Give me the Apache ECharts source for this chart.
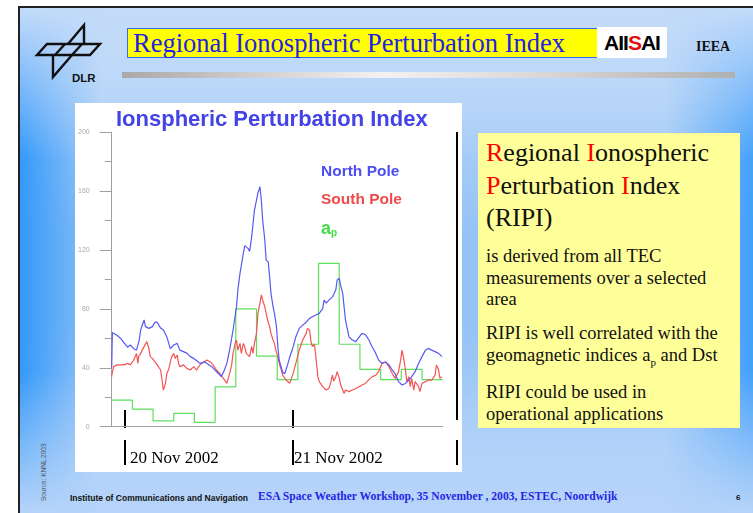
<!DOCTYPE html>
<html>

<head>
	<meta charset="utf-8" />
	<title>Regional Ionospheric Perturbation Index</title>
	<script src="https://cdn.jsdelivr.net/npm/echarts@6/dist/echarts.min.js"></script>
	<style>
		* {
			margin: 0;
			padding: 0;
		}

		html,
		body {
			width: 753px;
			height: 513px;
			overflow: hidden;
			background: #fff;
		}

		.slide {
			position: absolute;
			left: 18px;
			top: 6px;
			width: 735px;
			height: 507px;
			box-sizing: border-box;
			border-left: 2px solid #222;
			border-top: 2px solid #222;
			background:
				linear-gradient(to bottom, #c3dbf9 0%, rgba(195, 219, 249, 0) 30%, rgba(184, 213, 249, 0) 72%, #b6d4f9 100%),
				linear-gradient(to right, rgba(45, 150, 250, 0.95) 0%, rgba(45, 150, 250, 0) 11%, rgba(45, 150, 250, 0) 88%, rgba(45, 150, 250, 0.8) 100%),
				linear-gradient(to bottom, #c3dbf9 0%, #94c3f6 45%, #94c3f6 62%, #b6d4f9 100%);
		}

		.abs {
			position: absolute;
			white-space: nowrap;
		}

		.serif {
			font-family: 'Liberation Serif', 'Times New Roman', serif;
		}

		.sans {
			font-family: 'Liberation Sans', Arial, sans-serif;
		}

		.titlebox {
			left: 127px;
			top: 28px;
			width: 466px;
			height: 28px;
			background: #ffff00;
			border: 1.5px solid #3a6cf0;
			color: #2222e6;
			font-size: 26.5px;
			line-height: 29px;
			padding-left: 5px;
		}

		.bar {
			left: 122px;
			top: 72px;
			width: 613px;
			height: 6px;
			background: linear-gradient(to right, #a9a9a9 0%, #f2f2f2 42%, #d6d6d6 70%, #b0b0b0 100%);
		}

		.aiisai {
			left: 597px;
			top: 27px;
			width: 70px;
			height: 31px;
			background: #fff;
			font-size: 21px;
			font-weight: bold;
			line-height: 31px;
			text-align: center;
			color: #000;
			letter-spacing: -1px;
		}

		.textbox {
			left: 478px;
			top: 133px;
			width: 262px;
			height: 295px;
			background: #ffff99;
			color: #111;
		}

		.textbox .r {
			color: #ff0000;
		}

		.big {
			left: 8px;
			font-size: 26px;
			line-height: 32.5px;
		}

		.small {
			left: 8px;
			font-size: 18.5px;
			line-height: 21.5px;
		}

		#chart {
			position: absolute;
			left: 75px;
			top: 103px;
			width: 387px;
			height: 369px;
			background: #fff;
		}
	</style>
</head>

<body>
	<div class="slide"></div>

	<!-- DLR logo -->
	<svg class="abs" style="left:0;top:0" width="120" height="95">
		<g fill="none" stroke="#111" stroke-width="2.4" stroke-linejoin="miter">
			<polygon points="37,55 47,44 100,44 90,55" />
			<line x1="55" y1="55" x2="65" y2="44" />
			<line x1="72" y1="55" x2="82" y2="44" />
			<polyline points="53,55 53,77 72,55" />
			<polyline points="68,44 84,25 84,44" />
		</g>
		<text x="72" y="82" font-family="Liberation Sans, Arial" font-weight="bold" font-size="11.5" fill="#111">DLR</text>
	</svg>

	<div class="abs serif titlebox">Regional Ionospheric Perturbation Index</div>
	<div class="abs sans aiisai">AII<span style="color:#e01010">S</span>AI</div>
	<div class="abs serif" style="left:696px;top:37px;font-size:14px;font-weight:bold;line-height:20px;color:#111">IEEA</div>
	<div class="abs bar"></div>

	<div id="chart"></div>

	<div class="abs textbox serif">
		<div class="abs big" style="top:4px"><span class="r">R</span>egional <span class="r">I</span>onospheric<br><span class="r">P</span>erturbation <span class="r">I</span>ndex<br>(RIPI)</div>
		<div class="abs small" style="top:113px">is derived from all TEC<br>measurements over a selected<br>area</div>
		<div class="abs small" style="top:190px">RIPI is well correlated with the<br>geomagnetic indices a<sub style="font-size:11px">p</sub> and Dst</div>
		<div class="abs small" style="top:249px">RIPI could be used in<br>operational applications</div>
	</div>

	<div class="abs sans" style="left:40px;top:501px;font-size:6.5px;line-height:8px;color:#555;transform:rotate(-90deg);transform-origin:left top">Source: KNNL 2003</div>
	<div class="abs sans" style="left:70px;top:492px;font-size:8.5px;line-height:12px;font-weight:bold;color:#111">Institute of Communications and Navigation</div>
	<div class="abs serif" style="left:258px;top:490px;font-size:11.6px;line-height:14px;font-weight:bold;color:#2525e6">ESA Space Weather Workshop, 35 November , 2003, ESTEC, Noordwijk</div>
	<div class="abs sans" style="left:736px;top:492px;font-size:8px;line-height:12px;font-weight:bold;color:#111">6</div>

	<script>
		// North Pole RIPI: [hours from start, value]
		var northPole = [
			[0, 40], [0.1, 64], [0.8, 62], [1.3, 60], [1.8, 57], [2.3, 54], [2.7, 55.5], [3.2, 53], [3.6, 52],
			[4.0, 59], [4.2, 65.7], [4.7, 72.5], [4.9, 68], [5.4, 66.8], [5.9, 68], [6.3, 71], [6.6, 71],
			[7.1, 67], [7.5, 65.7], [8.0, 61], [8.5, 53], [9.0, 55.5], [9.5, 56.6], [9.9, 52], [10.4, 51],
			[10.9, 50], [11.4, 47.6], [11.9, 46.4], [12.3, 45], [12.8, 43], [13.5, 44], [14.5, 40.8],
			[15.5, 36], [15.9, 34], [16.3, 38], [16.7, 43], [17.1, 52], [17.6, 65.7], [18.1, 81.5],
			[18.3, 93], [18.6, 104], [19.1, 118], [19.3, 123], [19.8, 121], [20.0, 119], [20.3, 129],
			[20.5, 138], [20.7, 147], [21.0, 154], [21.2, 158.5], [21.5, 163], [21.7, 154], [21.9, 140],
			[22.2, 127], [22.4, 113], [22.7, 112], [22.9, 102], [23.1, 90.6], [23.4, 81.5], [23.6, 77],
			[23.9, 68], [24.1, 54], [24.3, 45], [24.8, 37], [25.1, 36], [25.5, 42], [25.8, 47], [26.3, 54],
			[26.7, 61], [27.2, 66.8], [27.7, 69], [28.2, 71], [28.7, 73.6], [29.1, 74.7], [29.6, 75.9],
			[30.1, 77], [30.6, 80.4], [30.8, 86], [31.1, 84], [31.5, 86], [32.0, 88], [32.5, 93],
			[32.7, 99.7], [33.0, 100.8], [33.2, 96], [33.5, 90.6], [33.7, 81.5], [33.9, 72.5], [34.2, 65.7],
			[34.4, 61], [34.9, 58.9], [35.4, 57.8], [35.9, 61], [36.3, 63.4], [36.8, 62.5], [37.3, 58.9],
			[37.8, 54], [38.3, 49.8], [38.7, 45.3], [39.2, 43], [39.7, 44], [40.2, 42], [40.7, 38.5],
			[41.1, 36], [41.6, 30.6], [42.1, 28.3], [42.6, 29.4], [43.1, 31.7], [43.5, 34], [44.0, 37.4],
			[44.5, 43], [45.0, 47.6], [45.5, 52], [45.9, 53.2], [46.4, 52], [46.9, 51], [47.4, 49.8], [47.9, 47.6]
		];

		// South Pole RIPI
		var southPole = [
			[0, 34], [0.1, 37.4], [0.3, 40.8], [0.8, 42], [1.3, 42], [1.8, 42], [2.3, 43], [2.7, 42],
			[3.2, 45.3], [3.6, 49.8], [3.8, 43], [3.9, 47.6], [4.2, 49.8], [4.7, 54.4], [5.1, 57.8],
			[5.4, 53], [5.6, 47.6], [5.9, 46.4], [6.1, 45.3], [6.6, 42], [7.1, 38.5], [7.3, 31.7],
			[7.5, 24.9], [7.8, 29.4], [8.0, 36.2], [8.3, 39.6], [8.5, 40.8], [8.7, 47.6], [9.0, 49.8],
			[9.2, 46.4], [9.5, 48.7], [9.7, 43], [9.9, 40.8], [10.4, 42], [10.9, 39.6], [11.4, 38.5],
			[11.9, 40.8], [12.3, 38.5], [12.8, 42], [13.8, 45.3], [14.3, 44], [14.7, 42], [15.2, 38.5],
			[15.7, 36], [16.2, 32.8], [16.7, 29.4], [17.1, 36], [17.4, 42], [17.6, 49.8], [17.9, 56.6],
			[18.1, 58.9], [18.3, 52], [18.6, 56.6], [18.8, 49.8], [19.1, 56.6], [19.3, 54.4], [19.5, 49.8],
			[20.0, 47.6], [20.3, 54.4], [20.5, 49.8], [20.7, 56.6], [21.0, 63.4], [21.2, 77], [21.5, 83.8],
			[21.7, 89.5], [21.9, 86], [22.2, 81.5], [22.4, 77], [22.6, 72.5], [22.9, 68], [23.1, 63.4],
			[23.4, 58.9], [23.6, 56.6], [23.8, 52], [24.1, 47.6], [24.3, 43], [24.6, 38.5], [24.8, 35],
			[25.3, 31.7], [25.8, 29.4], [26.3, 36], [26.7, 43], [27.2, 52], [27.7, 58.9], [28.2, 63.4],
			[28.4, 66.8], [28.7, 65.7], [28.9, 58], [29.1, 54.4], [29.4, 56], [29.6, 47.6], [29.9, 34],
			[30.1, 30.6], [30.6, 27.2], [31.1, 24.9], [31.5, 26], [31.8, 30.6], [32.0, 35.1], [32.2, 31],
			[32.5, 34], [32.7, 37.4], [33.0, 33], [33.2, 28.3], [33.5, 24.9], [33.7, 22.6], [33.9, 24.9],
			[34.4, 23.8], [34.9, 24.9], [35.4, 26], [35.9, 27.2], [36.3, 28.3], [36.8, 29.4], [37.3, 32],
			[37.8, 34], [38.3, 35], [38.7, 37.4], [39.2, 43], [39.7, 44], [40.2, 40.8], [40.7, 36],
			[41.1, 32.8], [41.6, 37.4], [41.9, 45.3], [42.1, 52], [42.3, 47.6], [42.6, 38.5], [42.8, 30.6],
			[43.1, 34], [43.3, 27.2], [43.5, 32.8], [43.8, 24.9], [44.0, 30.6], [44.5, 27.2], [44.7, 23.8],
			[45.0, 29.4], [45.5, 30.6], [45.9, 31.7], [46.4, 31.7], [46.9, 35], [47.1, 42], [47.4, 38.5],
			[47.6, 32.8], [47.9, 34]
		];

		// 3-hourly ap index
		var apHours = [0, 3, 6, 9, 12, 15, 18, 21, 24, 27, 30, 33, 36, 39, 42, 45, 48];
		var apValues = [18, 12, 4, 9, 3, 27, 80, 48, 32, 56, 111, 56, 39, 32, 39, 32, 32];

		// date markers drawn on the slide (hours from start)
		var dayHours = [2, 26.25];
		var dayLabels = ['20 Nov 2002', '21 Nov 2002'];

		var seriesNames = ['North Pole', 'South Pole', 'ap'];
		var seriesColors = ['#5858f2', '#f45454', '#5ee05e'];

		var apData = apHours.map(function (h, i) { return [h, apValues[i]]; });

		var myChart = echarts.init(document.getElementById('chart'));

		var option = {
			animation: false,
			title: {
				text: 'Ionspheric Perturbation Index',
				left: 36,
				top: 1,
				textStyle: {
					fontFamily: 'Liberation Sans, Arial',
					fontWeight: 'bold',
					fontSize: 22,
					color: '#4343e6'
				}
			},
			legend: {
				orient: 'vertical',
				left: 236,
				top: 56,
				icon: 'none',
				itemWidth: 0,
				itemGap: 12,
				selectedMode: false,
				data: [
					{ name: seriesNames[0], textStyle: { color: '#4d4df0' } },
					{ name: seriesNames[1], textStyle: { color: '#f04a4a' } },
					{ name: seriesNames[2] }
				],
				formatter: function (name) {
					return name === 'ap' ? '{a|a}{s|p}' : name;
				},
				textStyle: {
					fontFamily: 'Liberation Sans, Arial',
					fontWeight: 'bold',
					fontSize: 15.5,
					rich: {
						a: { fontSize: 18, color: '#44dd44', fontFamily: 'Liberation Sans, Arial' },
						s: { fontSize: 10, color: '#44dd44', fontFamily: 'Liberation Sans, Arial', padding: [9, 0, 0, 0] }
					}
				}
			},
			grid: {
				left: 34.3,
				top: 29.3,
				right: 19.3,
				bottom: 45.3
			},
			xAxis: {
				type: 'value',
				min: 0,
				max: 48,
				axisLine: { show: true, lineStyle: { color: '#a0a0a0' } },
				axisTick: { show: false },
				axisLabel: { show: false },
				splitLine: { show: false }
			},
			yAxis: {
				type: 'value',
				min: 0,
				max: 200,
				interval: 40,
				axisLine: { show: true, lineStyle: { color: '#a0a0a0' } },
				axisTick: { show: true, length: 12, lineStyle: { color: '#a0a0a0' } },
				minorTick: { show: true, splitNumber: 2, length: 7, lineStyle: { color: '#a0a0a0' } },
				axisLabel: { fontSize: 7, color: '#aaa', margin: 22, fontFamily: 'Liberation Sans, Arial' },
				splitLine: { show: false }
			},
			series: [
				{
					name: seriesNames[2],
					type: 'line',
					step: 'end',
					showSymbol: false,
					data: apData,
					itemStyle: { color: seriesColors[2] },
					lineStyle: { color: seriesColors[2], width: 1.2 }
				},
				{
					name: seriesNames[1],
					type: 'line',
					showSymbol: false,
					data: southPole,
					itemStyle: { color: seriesColors[1] },
					lineStyle: { color: seriesColors[1], width: 1.2 }
				},
				{
					name: seriesNames[0],
					type: 'line',
					showSymbol: false,
					data: northPole,
					itemStyle: { color: seriesColors[0] },
					lineStyle: { color: seriesColors[0], width: 1.2 }
				}
			]
		};
		myChart.setOption(option);

		// slide annotations: black date bars + labels below the axis
		var marks = [];
		var barStyle = { stroke: '#000', lineWidth: 2 };
		dayHours.forEach(function (h, i) {
			var px = Math.round(myChart.convertToPixel({ xAxisIndex: 0 }, h));
			marks.push({ type: 'line', shape: { x1: px, y1: 307, x2: px, y2: 325 }, style: barStyle });
			marks.push({ type: 'line', shape: { x1: px, y1: 337, x2: px, y2: 362 }, style: barStyle });
			marks.push({
				type: 'text',
				x: px + (i === 0 ? 5 : 1),
				y: 356,
				style: {
					text: dayLabels[i],
					font: '17px "Liberation Serif", "Times New Roman", serif',
					fill: '#000',
					verticalAlign: 'middle'
				}
			});
		});
		marks.push({ type: 'line', shape: { x1: 382, y1: 29, x2: 382, y2: 317 }, style: barStyle });
		marks.push({ type: 'line', shape: { x1: 382, y1: 337, x2: 382, y2: 362 }, style: barStyle });
		myChart.setOption({ graphic: marks });
	</script>
</body>

</html>
